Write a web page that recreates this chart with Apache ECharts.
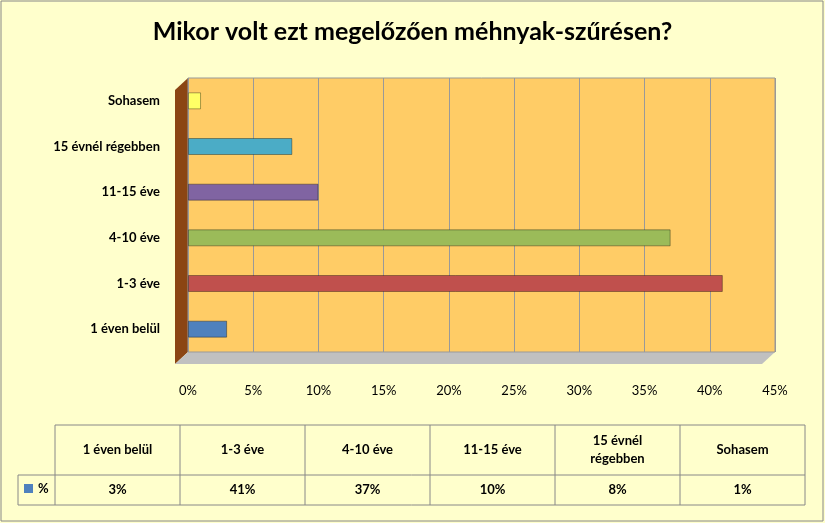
<!DOCTYPE html>
<html><head><meta charset="utf-8">
<script src="https://cdn.jsdelivr.net/npm/echarts@6/dist/echarts.min.js"></script>
<style>html,body{margin:0;padding:0;background:#FFFFCC}#c{width:825px;height:523px}</style>
</head><body><div id="c"></div>
<script>
const categories = ['1 éven belül','1-3 éve','4-10 éve','11-15 éve','15 évnél régebben','Sohasem'];
const tableHeaders = ['1 éven belül','1-3 éve','4-10 éve','11-15 éve','15 évnél\nrégebben','Sohasem'];
const values = [3, 41, 37, 10, 8, 1];
const colors = ['#4F81BD','#C0504D','#9BBB59','#8064A2','#4BACC6','#FFFF66'];
const seriesName = '%';

const chart = echarts.init(document.getElementById('c'));
const F = 'Lato, "Open Sans", sans-serif';
const colX = [55,180,305,430,555,680,805];
const g = [];
g.push({type:'rect',shape:{x:1,y:1,width:822,height:520},style:{fill:'none',stroke:'#888',lineWidth:1},z:-1});
g.push({type:'polygon',shape:{points:[[175,90],[188,78],[188,352],[175,364]]},style:{fill:'#8B4513'},z:-2});
g.push({type:'polygon',shape:{points:[[175,364],[188,352],[775,352],[762,364]]},style:{fill:'#C0C0C0'},z:-2});
const tTop=425, tMid=475, tBot=505;
g.push({type:'line',shape:{x1:55,y1:tTop,x2:805,y2:tTop},style:{stroke:'#888'}});
g.push({type:'line',shape:{x1:18,y1:tMid,x2:805,y2:tMid},style:{stroke:'#888'}});
g.push({type:'line',shape:{x1:18,y1:tBot,x2:805,y2:tBot},style:{stroke:'#888'}});
g.push({type:'line',shape:{x1:18,y1:tMid,x2:18,y2:tBot},style:{stroke:'#888'}});
colX.forEach(x=>g.push({type:'line',shape:{x1:x,y1:tTop,x2:x,y2:tBot},style:{stroke:'#888'}}));
tableHeaders.forEach((h,i)=>{
  const cx=(colX[i]+colX[i+1])/2;
  g.push({type:'text',x:cx,y:(tTop+tMid)/2,style:{text:h,font:'bold 13px '+F,fill:'#000',align:'center',verticalAlign:'middle',lineHeight:18}});
  g.push({type:'text',x:cx,y:(tMid+tBot)/2,style:{text:values[i]+'%',font:'bold 13px '+F,fill:'#000',align:'center',verticalAlign:'middle'}});
});
g.push({type:'rect',shape:{x:24,y:484,width:9,height:9},style:{fill:'#4F81BD'}});
g.push({type:'text',x:38,y:489,style:{text:seriesName,font:'bold 13px '+F,fill:'#000',verticalAlign:'middle'}});

chart.setOption({
  backgroundColor:'#FFFFCC',
  title:{text:'Mikor volt ezt megelőzően méhnyak-szűrésen?',left:'center',top:14,textStyle:{fontFamily:F,fontSize:25,fontWeight:'bold',color:'#000'}},
  grid:{left:188,right:50,top:78,bottom:171,show:true,backgroundColor:'#FFCC66',borderColor:'#999'},
  xAxis:{type:'value',min:0,max:45,interval:5,
    axisLabel:{formatter:'{value}%',fontFamily:F,fontSize:13,color:'#000',margin:32},
    splitLine:{lineStyle:{color:'#999'}},axisLine:{show:false},axisTick:{show:false}},
  yAxis:{type:'category',data:categories,
    axisLabel:{fontFamily:F,fontSize:13,fontWeight:'bold',color:'#000',margin:28},
    axisLine:{show:false},axisTick:{show:false}},
  series:[{name:seriesName,type:'bar',data:values.map((v,i)=>({value:v,itemStyle:{color:colors[i],borderColor:'rgba(0,0,0,0.35)',borderWidth:1}})),barWidth:17}],
  graphic:g
});
</script></body></html>
